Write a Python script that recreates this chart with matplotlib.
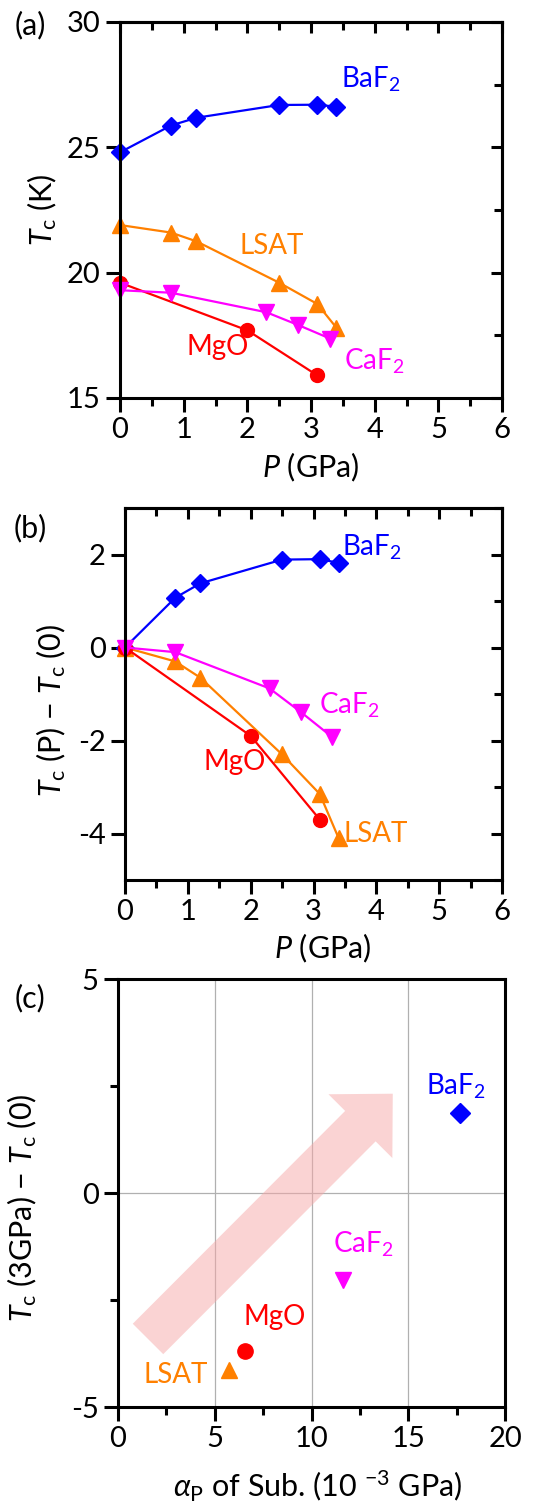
import matplotlib
matplotlib.use("Agg")
import matplotlib.pyplot as plt
from matplotlib.ticker import MultipleLocator

plt.rcParams['font.family'] = ['Lato', 'DejaVu Sans']
plt.rcParams['mathtext.fontset'] = 'custom'
plt.rcParams['mathtext.rm'] = 'Lato'
plt.rcParams['mathtext.it'] = 'Lato:italic'
plt.rcParams['mathtext.bf'] = 'Lato:bold'
plt.rcParams['axes.unicode_minus'] = False

# Tc vs pressure
p_baf2 = [0, 0.8, 1.2, 2.5, 3.1, 3.4]
tc_baf2 = [24.8, 25.87, 26.18, 26.69, 26.7, 26.62]
p_lsat = [0, 0.8, 1.2, 2.5, 3.1, 3.4]
tc_lsat = [21.9, 21.6, 21.25, 19.6, 18.75, 17.8]
p_caf2 = [0, 0.8, 2.3, 2.8, 3.3]
tc_caf2 = [19.3, 19.2, 18.42, 17.91, 17.37]
p_mgo = [0, 2, 3.1]
tc_mgo = [19.6, 17.7, 15.9]

# panel (c): pressure coefficient of substrate vs Tc shift at 3 GPa
subs = ['BaF$_2$', 'CaF$_2$', 'MgO', 'LSAT']
alpha_p = [17.67, 11.64, 6.55, 5.74]
dtc_3gpa = [1.87, -2.04, -3.69, -4.14]

colors = {'BaF2': '#0000ff', 'LSAT': '#ff8000', 'CaF2': '#ff00ff', 'MgO': '#ff0000'}
FS = 20      # series labels
FL = 22      # axis labels
FT = 21      # tick labels
W, H = 539, 1510

fig = plt.figure(figsize=(W / 100, H / 100), dpi=100)


def box(l, t, r, b):
    return [l / W, 1 - b / H, (r - l) / W, (b - t) / H]


def style(ax, xmaj, xmin, ymaj, ymin, inner=True):
    for s in ax.spines.values():
        s.set_linewidth(2.2)
    ax.xaxis.set_major_locator(MultipleLocator(xmaj))
    ax.xaxis.set_minor_locator(MultipleLocator(xmin))
    ax.yaxis.set_major_locator(MultipleLocator(ymaj))
    ax.yaxis.set_minor_locator(MultipleLocator(ymin))
    ax.tick_params(which='major', direction='out', length=10, width=2.2, labelsize=FT, pad=4)
    ax.tick_params(which='minor', direction='out', length=6, width=2.2)
    ax.tick_params(axis='y', which='minor', left=inner is False)
    if inner:
        top = ax.secondary_xaxis('top')
        top.xaxis.set_major_locator(MultipleLocator(xmaj))
        top.xaxis.set_minor_locator(MultipleLocator(xmin))
        top.tick_params(which='both', direction='in', labeltop=False, width=2.2)
        top.tick_params(which='major', length=8)
        top.tick_params(which='minor', length=6)
        rgt = ax.secondary_yaxis('right')
        rgt.yaxis.set_major_locator(MultipleLocator(ymaj))
        rgt.yaxis.set_minor_locator(MultipleLocator(ymin))
        rgt.tick_params(which='both', direction='in', labelright=False, width=2.2)
        rgt.tick_params(which='major', length=8)
        rgt.tick_params(which='minor', length=6)
        for sa in (top, rgt):
            for s in sa.spines.values():
                s.set_linewidth(2.2)


def series(ax, y_baf2, y_lsat, y_caf2, y_mgo):
    ax.plot(p_baf2, y_baf2, '-D', color=colors['BaF2'], lw=1.6, ms=9.5, clip_on=False)
    ax.plot(p_lsat, y_lsat, '-^', color=colors['LSAT'], lw=1.6, ms=11, clip_on=False)
    ax.plot(p_mgo, y_mgo, '-o', color=colors['MgO'], lw=1.6, ms=10, clip_on=False)
    ax.plot(p_caf2, y_caf2, '-v', color=colors['CaF2'], lw=1.6, ms=11, clip_on=False)


# ---- (a)
ax1 = fig.add_axes(box(120, 22, 502, 398))
series(ax1, tc_baf2, tc_lsat, tc_caf2, tc_mgo)
ax1.set_xlim(0, 6)
ax1.set_ylim(15, 30)
style(ax1, 1, 0.5, 5, 2.5)
ax1.set_xlabel('$P$ (GPa)', fontsize=FL)
ax1.set_ylabel(r'$T_{\rm c}$ (K)', fontsize=FL)
ax1.xaxis.set_label_coords(0.5, -0.14)
ax1.yaxis.set_label_coords(-0.16, 0.5)
ax1.text(3.47, 27.4, 'BaF$_2$', color=colors['BaF2'], fontsize=FS)
ax1.text(1.88, 20.73, 'LSAT', color=colors['LSAT'], fontsize=FS)
ax1.text(1.04, 16.7, 'MgO', color=colors['MgO'], fontsize=FS)
ax1.text(3.52, 16.15, 'CaF$_2$', color=colors['CaF2'], fontsize=FS)

# ---- (b)
ax2 = fig.add_axes(box(125, 508, 502, 880))
d = lambda v: [x - v[0] for x in v]
series(ax2, d(tc_baf2), d(tc_lsat), d(tc_caf2), d(tc_mgo))
ax2.set_xlim(0, 6)
ax2.set_ylim(-5, 3)
style(ax2, 1, 0.5, 2, 1)
ax2.set_xlabel('$P$ (GPa)', fontsize=FL)
ax2.set_ylabel(r'$T_{\rm c}$ (P) $-$ $T_{\rm c}$ (0)', fontsize=FL)
ax2.xaxis.set_label_coords(0.525, -0.14)
ax2.yaxis.set_label_coords(-0.15, 0.457)
ax2.text(3.45, 1.98, 'BaF$_2$', color=colors['BaF2'], fontsize=FS)
ax2.text(3.08, -1.43, 'CaF$_2$', color=colors['CaF2'], fontsize=FS)
ax2.text(1.25, -2.64, 'MgO', color=colors['MgO'], fontsize=FS)
ax2.text(3.48, -4.18, 'LSAT', color=colors['LSAT'], fontsize=FS)

# ---- (c)
ax3 = fig.add_axes(box(118, 979, 505, 1407))
ax3.set_xlim(0, 20)
ax3.set_ylim(-5, 5)
style(ax3, 5, 2.5, 5, 2.5, inner=False)
ax3.tick_params(axis='y', which='minor', left=True)
ax3.grid(True, which='major', color='#b0b0b0', lw=0.9)
ax3.set_axisbelow(True)
ax3.annotate('', xy=(14.2, 2.32), xytext=(1.55, -3.41),
             arrowprops=dict(arrowstyle='simple,head_length=3.3,head_width=6.5,tail_width=3.1',
                             mutation_scale=10, fc='#f6a8a8', ec='none', alpha=0.5,
                             shrinkA=0, shrinkB=0))
markers = ['D', 'v', 'o', '^']
keys = ['BaF2', 'CaF2', 'MgO', 'LSAT']
sizes = [10, 12, 11, 12]
for a, t, m, k, s in zip(alpha_p, dtc_3gpa, markers, keys, sizes):
    ax3.plot(a, t, m, color=colors[k], ms=s, zorder=3)
ax3.text(15.9, 2.29, subs[0], color=colors['BaF2'], fontsize=FS)
ax3.text(11.1, -1.38, subs[1], color=colors['CaF2'], fontsize=FS)
ax3.text(6.47, -3.09, subs[2], color=colors['MgO'], fontsize=FS)
ax3.text(1.34, -4.43, subs[3], color=colors['LSAT'], fontsize=FS)
ax3.set_xlabel(r'$\alpha_{\rm P}$ of Sub. (10 $^{-3}$ GPa)', fontsize=FL)
ax3.set_ylabel(r'$T_{\rm c}$ (3GPa) $-$ $T_{\rm c}$ (0)', fontsize=FL)
ax3.xaxis.set_label_coords(0.517, -0.145)
ax3.yaxis.set_label_coords(-0.205, 0.465)

fig.text(30 / W, 1 - 25 / H, '(a)', fontsize=FL, ha='center', va='center')
fig.text(30 / W, 1 - 528 / H, '(b)', fontsize=FL, ha='center', va='center')
fig.text(30 / W, 1 - 998 / H, '(c)', fontsize=FL, ha='center', va='center')

fig.savefig('out.png', dpi=100)
